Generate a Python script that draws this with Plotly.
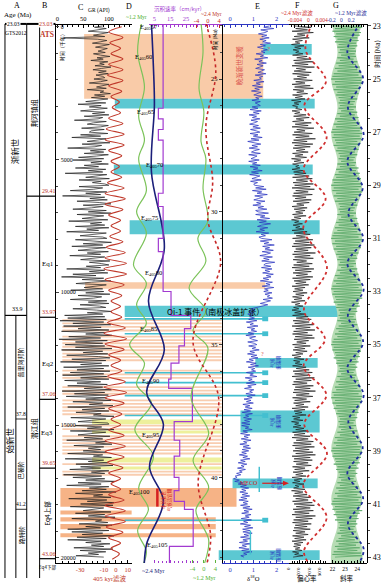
import plotly.graph_objects as go

W, H = 381, 583
PX_TOP, PX_BOT = 22, 563           # vertical extent of the data panels (pixels)
MA_TOP, MA_BOT = 22.925, 43.225    # ages at those pixel rows (Ma)

# ------------------------------------------------------------------ data
# stratigraphic framework
gts_bounds = [33.9, 37.8, 41.2]
ats_bounds = [29.41, 33.97, 37.06, 39.65, 43.06]
ats_labels = ["23.03", "29.41", "33.97", "37.06", "39.65", "43.06"]

# C: gamma ray log (API), sampled every 0.05 Myr from 23.00 Ma
gr_start, gr_step = 23.0, 0.05
gr_api = [88, 72, 95, 81, 60, 99, 85, 70, 92, 12, 78, 96, 83, 68, 101, 90, 74, 97, 86, 79,
          93, 70, 84, 102, 77, 89, 65, 98, 82, 91, 73, 104, 86, 69, 95, 80, 99, 75, 88, 92,
          71, 97, 84, 62, 100, 88, 76, 95, 58, 90, 83, 103, 72, 92, 66, 98, 81, 55, 94, 40,
          85, 62, 97, 74, 45, 92, 68, 100, 52, 88, 79, 33, 95, 70, 58, 99, 84, 47, 91, 66,
          62, 98, 45, 84, 28, 95, 70, 58, 102, 48, 86, 73, 20, 94, 64, 90, 52, 99, 76, 41,
          90, 30, 86, 65, 99, 52, 80, 35, 94, 60, 88, 15, 96, 70, 55, 101, 42, 85, 68, 92,
          100, 42, 88, 70, 25, 96, 55, 84, 10, 92, 63, 97, 38, 82, 104, 50, 89, 66, 30, 95,
          60, 104, 38, 90, 72, 48, 98, 22, 86, 64, 92, 35, 100, 57, 80, 18, 95, 70, 44, 88,
          96, 35, 80, 105, 50, 88, 28, 94, 66, 40, 99, 58, 84, 24, 92, 71, 45, 102, 62, 86,
          100, 56, 84, 18, 92, 62, 98, 30, 75, 8, 90, 48, 104, 66, 36, 95, 78, 52, 88, 26,
          90, 55, 102, 40, 86, 70, 25, 96, 60, 100, 44, 82, 94, 30, 76, 105, 58, 88, 14, 92,
          20, 95, 5, 90, 30, 104, 12, 85, 40, 100, 8, 92, 55, 106, 22, 84, 3, 97, 35, 88,
          15, 92, 35, 106, 8, 88, 50, 98, 18, 80, 102, 28, 94, 6, 86, 45, 100, 12, 90, 38,
          102, 25, 90, 10, 96, 45, 100, 14, 84, 38, 97, 20, 88, 52, 105, 9, 92, 33, 99, 17,
          95, 55, 104, 30, 88, 62, 108, 20, 92, 48, 100, 36, 85, 70, 110, 26, 94, 58, 40, 98,
          100, 35, 86, 58, 110, 25, 94, 65, 40, 102, 52, 88, 18, 96, 74, 106, 32, 90, 60, 84,
          50, 96, 20, 88, 70, 105, 15, 90, 60, 98, 36, 108, 45, 84, 24, 100, 66, 92, 12, 86,
          30, 92, 55, 112, 40, 85, 18, 100, 62, 95, 48, 114, 35, 88, 70, 104, 22, 96, 58, 110,
          45, 108, 25, 90, 70, 50, 104, 35, 92, 60, 112, 28, 86, 74, 98, 42, 106, 55, 84, 20,
          100, 28, 88, 48, 110, 38, 95, 20, 85, 55, 102, 66, 90, 32, 108, 44, 94, 60, 80, 36,
          90]

# C: 405-kyr filter, successive extrema every half cycle from 23.03 Ma
f405_start, f405_step = 23.03, 0.2025
f405_val = [5, -6, 6, -5, 4, -4, 6, -6, 6, -7, 6, -6, 5, -4, 3, -3, 4, -6, 6, -8,
            7, -9, 7, -6, 5, -4, 3, -4, 5, -7, 7, -9, 8, -9, 6, -6, 4, -4, 4, -5,
            6, -8, 8, -9, 9, -10, 9, -9, 7, -6, 5, -4, 4, -4, 5, -7, 8, -10, 9, -9,
            7, -6, 4, -4, 5, -7, 8, -10, 9, -9, 7, -6, 5, -4, 4, -6, 7, -9, 8, -9,
            7, -7, 6, -6, 4, -4, 4, -6, 7, -9, 8, -9, 8, -8, 6, -6, 4, -4, 3, -3]

# D: ~1.2 Myr filter (left green curve), extrema
g1_age = [22.9, 24.0, 25.3, 26.4, 27.3, 28.0, 29.2, 30.0, 30.8, 32.0, 32.7, 33.5,
          34.2, 35.0, 35.7, 36.5, 37.2, 38.2, 39.2, 40.4, 41.2, 42.0, 42.8, 43.4]
g1_val = [-0.08, -0.38, 0.15, -0.3, 0.15, -0.3, 0.3, -0.46, 0.3, -0.7, 0.3, -0.46,
          0.3, -1.0, 0.15, -0.46, 0.7, -0.6, 0.85, -0.3, 0.46, -0.38, 0.3, -0.08]

# D: ~2.4 Myr filter (dark blue curve), extrema
b24_age = [22.9, 24.5, 26.0, 28.5, 31.4, 33.36, 35.2, 36.8, 38.0, 39.6, 40.9, 42.5, 43.4]
b24_val = [-0.23, -0.08, 0.0, -0.23, 0.77, -0.46, 0.77, -0.6, 0.7, -0.38, 0.7, -0.6, -0.8]

# D: sedimentation rate (cm/kyr), value holds from each age downwards
sr_age = [22.9, 26.1, 26.5, 26.9, 27.3, 29.3, 29.8, 31.0, 31.5, 33.0, 33.9, 34.4,
          35.05, 35.7, 36.3, 36.65, 37.9, 38.6, 39.2, 40.0, 40.5, 40.9, 41.2, 42.6, 43.4]
sr_rate = [10.5, 7.5, 10.5, 7.5, 10.5, 7.5, 10.5, 7.5, 10.5, 15.5, 28, 24,
           20.5, 15.5, 14, 29, 17.5, 21, 17.5, 20.5, 17.5, 24, 29.5, 14.5, 14.5]

# D: ~1.2 Myr filter (right green curve), extrema
g2_age = [22.9, 23.98, 25.36, 26.23, 27.35, 27.99, 29.12, 30.35, 30.99, 31.86, 32.87,
          33.73, 34.48, 35.12, 37.0, 38.35, 39.36, 40.37, 41.24, 42.36, 43.4]
g2_val = [-1.0, -0.3, -1.7, 0.0, -1.0, 0.7, -0.3, 1.4, -2.1, 0.7, -5.2,
          0.7, -3.8, 1.4, -4.5, 1.7, -3.8, 1.7, -2.8, 1.7, -0.3]

# D: ~2.4 Myr filter (red dotted curve), extrema
r24_age = [22.9, 24.7, 26.8, 28.9, 30.3, 31.9, 34.9, 37.0, 40.2, 42.2, 43.4]
r24_val = [-0.7, 2.8, -0.7, 1.7, 0.0, 4.5, -5.2, 3.8, -3.4, 1.0, -0.7]

# E: benthic d18O (permil), every 0.05 Myr from 23.00 Ma
d18o_start, d18o_step = 23.0, 0.05
d18o = [1.70, 1.45, 1.88, 1.32, 1.62, 1.50, 1.22, 1.58, 1.36, 1.68, 1.28, 1.55, 1.40, 1.74, 1.30, 1.52, 1.18, 1.46, 1.60, 1.34,
        1.50, 1.12, 1.44, 1.30, 1.62, 1.06, 1.38, 1.24, 1.56, 1.16, 1.42, 1.28, 1.10, 1.48, 1.34, 1.20, 1.54, 1.08, 1.40, 1.26,
        1.35, 1.02, 1.46, 1.12, 1.30, 0.96, 1.40, 1.06, 1.26, 0.92, 1.32, 1.18, 1.02, 1.38, 1.10, 1.24, 0.94, 1.30, 1.08, 1.20,
        1.30, 0.95, 1.20, 0.86, 1.34, 1.00, 1.25, 0.82, 1.14, 0.96, 1.28, 0.90, 1.18, 1.04, 0.84, 1.22, 0.98, 1.30, 0.88, 1.12,
        1.28, 0.86, 1.20, 1.00, 1.38, 0.90, 1.24, 0.76, 1.10, 1.32, 0.94, 1.18, 0.82, 1.26, 1.04, 0.92, 1.30, 0.80, 1.16, 0.98,
        0.90, 1.25, 0.80, 1.15, 0.96, 1.30, 0.86, 1.20, 1.00, 1.38, 0.92, 1.22, 0.84, 1.28, 1.06, 0.94, 1.34, 0.88, 1.18, 1.02,
        1.05, 1.45, 1.10, 1.55, 0.96, 1.36, 1.16, 1.60, 1.06, 1.40, 1.22, 1.02, 1.50, 1.14, 1.32, 0.98, 1.44, 1.20, 1.58, 1.10,
        1.20, 1.65, 1.10, 1.50, 1.30, 1.70, 1.16, 1.56, 1.26, 1.74, 1.36, 1.18, 1.62, 1.28, 1.48, 1.12, 1.66, 1.34, 1.52, 1.24,
        1.35, 1.80, 1.30, 1.66, 1.46, 1.90, 1.40, 1.70, 1.50, 1.86, 1.38, 1.74, 1.56, 1.28, 1.82, 1.44, 1.68, 1.36, 1.92, 1.52,
        1.45, 1.75, 1.35, 1.80, 1.50, 1.70, 1.40, 1.86, 1.56, 1.76, 1.42, 1.66, 1.30, 1.82, 1.54, 1.72, 1.38, 1.88, 1.48, 1.64,
        1.45, 1.80, 1.50, 1.70, 1.60, 1.82, 1.42, 1.74, 1.52, 1.30, 1.62, 1.36, 1.10, 0.90, 1.06, 0.80, 1.02, 0.76, 0.98, 0.84,
        1.05, 0.80, 1.15, 0.70, 1.00, 0.86, 1.20, 0.74, 1.06, 0.90, 1.14, 0.78, 1.02, 0.68, 1.10, 0.84, 0.96, 1.18, 0.76, 1.04,
        1.15, 0.80, 1.10, 0.95, 1.25, 0.85, 1.05, 0.75, 1.15, 0.90, 1.20, 0.82, 1.00, 0.70, 1.12, 0.88, 1.22, 0.78, 1.06, 0.92,
        1.10, 0.70, 1.00, 0.85, 1.15, 0.65, 0.95, 0.80, 1.05, 0.70, 1.12, 0.76, 0.92, 0.62, 1.02, 0.84, 0.96, 0.68, 1.08, 0.74,
        0.95, 0.60, 0.90, 0.70, 1.00, 0.55, 0.85, 0.65, 0.95, 0.60, 0.88, 0.52, 0.96, 0.66, 0.80, 0.58, 0.92, 0.62, 0.84, 0.50,
        0.85, 0.50, 0.80, 0.65, 0.95, 0.55, 0.75, 0.45, 0.85, 0.60, 0.78, 0.48, 0.90, 0.58, 0.72, 0.42, 0.82, 0.56, 0.88, 0.52,
        0.80, 0.50, 0.70, 0.40, 0.75, 0.55, 0.85, 0.45, 0.65, 0.35, 0.72, 0.48, 0.60, 0.32, 0.66, 0.40, 0.52, 0.28, 0.46, 0.22,
        0.30, 0.15, 0.40, 0.20, 0.55, 0.35, 0.70, 0.45, 0.80, 0.50, 0.68, 0.42, 0.76, 0.52, 0.84, 0.46, 0.72, 0.38, 0.78, 0.56,
        0.75, 0.45, 0.85, 0.55, 0.95, 0.60, 0.80, 0.50, 0.90, 0.65, 0.82, 0.48, 0.92, 0.58, 0.76, 0.44, 0.88, 0.62, 0.98, 0.54,
        0.85, 0.55, 0.95, 0.60, 0.80, 0.45, 0.90, 0.55, 0.75, 0.40, 0.86, 0.52, 0.70, 0.38, 0.82, 0.50, 0.94, 0.58, 0.72, 0.46,
        0.60]

# F: eccentricity (x 0.001), every 0.05 Myr from 23.00 Ma
ecc_start, ecc_step = 23.0, 0.05
ecc_milli = [8, 42, 12, 35, 5, 46, 15, 30, 9, 38, 6, 25, 11, 20, 4, 28, 10, 22, 7, 18,
             12, 26, 6, 34, 14, 40, 8, 45, 10, 36, 5, 48, 13, 31, 9, 42, 6, 38, 15, 33,
             8, 44, 12, 30, 5, 40, 10, 46, 7, 28, 14, 35, 6, 25, 11, 30, 4, 22, 9, 18,
             6, 16, 12, 24, 5, 20, 10, 32, 8, 38, 13, 28, 6, 42, 11, 36, 5, 47, 14, 30,
             9, 44, 6, 38, 12, 50, 8, 34, 5, 45, 10, 40, 7, 30, 13, 36, 6, 26, 11, 33,
             4, 22, 9, 28, 6, 18, 12, 20, 5, 26, 8, 32, 10, 38, 6, 44, 13, 35, 7, 46,
             10, 40, 5, 48, 12, 36, 8, 44, 6, 32, 11, 42, 7, 38, 14, 28, 5, 34, 9, 30,
             12, 26, 6, 32, 9, 22, 4, 18, 10, 25, 7, 20, 12, 28, 5, 34, 9, 40, 13, 31,
             6, 45, 11, 38, 8, 48, 5, 42, 12, 36, 9, 50, 6, 40, 10, 46, 7, 33, 14, 44,
             8, 38, 5, 47, 11, 42, 7, 35, 13, 45, 6, 40, 9, 32, 12, 37, 5, 30, 10, 26,
             7, 34, 12, 28, 6, 24, 9, 30, 4, 20, 11, 26, 8, 18, 5, 22, 10, 30, 6, 36,
             13, 42, 7, 38, 10, 46, 5, 40, 12, 49, 8, 35, 6, 44, 11, 48, 9, 37, 14, 32,
             6, 40, 10, 30, 7, 34, 12, 26, 5, 22, 9, 28, 8, 20, 11, 24, 6, 32, 13, 38,
             7, 44, 10, 36, 5, 48, 12, 42, 8, 34, 6, 46, 11, 40, 9, 50, 7, 38, 13, 45,
             6, 33, 10, 40, 8, 28, 12, 36, 5, 30, 9, 24, 11, 32, 6, 20, 8, 26, 4, 18,
             10, 22, 7, 28, 12, 34, 6, 30, 9, 40, 5, 36, 13, 46, 8, 42, 6, 48, 11, 38,
             7, 45, 12, 50, 5, 40, 9, 44, 8, 36, 13, 42, 6, 30, 10, 38, 7, 26, 12, 32,
             5, 24, 9, 20, 6, 28, 11, 18, 8, 30, 4, 26, 10, 34, 7, 40, 12, 36, 6, 44,
             9, 48, 13, 40, 7, 46, 10, 38, 5, 50, 12, 44, 8, 36, 6, 42, 11, 34, 9, 40,
             7, 30, 12, 36, 6, 28, 10, 32, 5, 26, 9, 22, 8, 20, 11, 24, 6, 18, 10, 26,
             7]

# F: ~2.4 Myr eccentricity filter (x 0.001), extrema
fr_age = [22.9, 23.9, 25.1, 26.0, 27.2, 28.4, 29.5, 30.6, 32.1, 33.7, 34.8, 35.8,
          36.9, 38.0, 39.1, 40.3, 41.5, 42.8, 43.5]
fr_val = [1.2, -0.8, 5.3, -1.2, 5.5, -1.4, 5.2, -1.5, 5.6, -1.3, 5.0, -1.4,
          5.4, -1.2, 5.6, -1.5, 5.5, -1.3, 2.0]

# G: obliquity (x 0.1 degree), every 0.05 Myr from 23.00 Ma
obl_start, obl_step = 23.0, 0.05
obl_tenth = [219, 244, 222, 241, 220, 243, 223, 242, 221, 240, 224, 241, 222, 239, 225, 240, 224, 238, 226, 239,
             225, 238, 227, 239, 224, 237, 226, 240, 223, 239, 225, 242, 222, 240, 224, 243, 221, 241, 220, 244,
             219, 243, 222, 244, 220, 241, 223, 242, 221, 240, 224, 241, 223, 238, 225, 240, 226, 238, 225, 237,
             226, 239, 225, 237, 227, 240, 224, 238, 226, 241, 222, 239, 224, 242, 221, 240, 223, 243, 220, 242,
             219, 244, 221, 242, 220, 243, 222, 240, 223, 242, 221, 239, 224, 241, 223, 238, 225, 240, 226, 238,
             225, 237, 227, 239, 224, 238, 226, 241, 223, 239, 225, 242, 222, 240, 223, 243, 220, 241, 221, 244,
             219, 243, 221, 241, 220, 244, 223, 242, 221, 240, 224, 241, 222, 239, 225, 240, 226, 238, 225, 237,
             226, 239, 224, 237, 227, 240, 225, 238, 223, 241, 225, 239, 222, 242, 224, 240, 221, 243, 220, 241,
             219, 244, 222, 242, 220, 241, 223, 243, 221, 240, 224, 241, 223, 239, 225, 240, 224, 238, 226, 239,
             225, 237, 227, 240, 224, 238, 226, 241, 222, 239, 224, 242, 221, 240, 223, 243, 220, 241, 219, 244,
             221, 243, 220, 242, 222, 244, 223, 240, 221, 241, 224, 242, 223, 239, 225, 240, 226, 238, 225, 237,
             226, 239, 224, 238, 227, 240, 225, 237, 223, 241, 225, 239, 222, 242, 224, 240, 221, 243, 220, 241,
             219, 244, 221, 242, 220, 243, 222, 240, 223, 242, 221, 239, 224, 241, 223, 238, 225, 240, 226, 238,
             225, 237, 227, 239, 224, 238, 226, 241, 223, 239, 225, 242, 222, 240, 223, 243, 220, 241, 221, 244,
             219, 243, 222, 244, 220, 241, 223, 242, 221, 240, 224, 241, 223, 238, 225, 240, 226, 238, 225, 237,
             226, 239, 225, 237, 227, 240, 224, 238, 226, 241, 222, 239, 224, 242, 221, 240, 223, 243, 220, 242,
             219, 244, 221, 242, 220, 243, 222, 240, 223, 242, 221, 239, 224, 241, 223, 238, 225, 240, 226, 238,
             225, 237, 227, 239, 224, 238, 226, 241, 223, 239, 225, 242, 222, 240, 224, 243, 221, 241, 220, 244,
             219, 243, 222, 241, 220, 244, 223, 242, 221, 240, 224, 241, 222, 239, 225, 240, 226, 238, 225, 237,
             226, 239, 224, 237, 227, 240, 225, 238, 223, 241, 225, 239, 222, 242, 224, 240, 221, 243, 220, 244,
             222]

# G: envelope of the obliquity signal (degrees), at the filter extrema
env_age = [22.9, 24.0, 25.0, 26.05, 27.1, 28.1, 29.1, 30.05, 31.0, 31.95, 32.9, 33.9,
           34.9, 35.9, 36.9, 37.9, 38.9, 39.85, 40.8, 41.75, 42.7, 43.4]
env_lo = [21.9, 22.4, 21.9, 22.4, 21.9, 22.4, 21.9, 22.4, 21.9, 22.4, 21.9, 22.4,
          21.9, 22.4, 21.9, 22.4, 21.9, 22.4, 21.9, 22.4, 21.9, 22.1]
env_hi = [24.4, 23.9, 24.4, 23.9, 24.4, 23.9, 24.4, 23.9, 24.4, 23.9, 24.4, 23.9,
          24.4, 23.9, 24.4, 23.9, 24.4, 23.9, 24.4, 23.9, 24.4, 24.2]

# G: ~1.2 Myr obliquity filter, extrema
gb_age = [22.9, 24.0, 25.0, 26.05, 27.1, 28.1, 29.1, 30.05, 31.0, 31.95, 32.9, 33.9,
          34.9, 35.9, 36.9, 37.9, 38.9, 39.85, 40.8, 41.75, 42.7, 43.4]
gb_val = [0.38, 0.12, 0.44, 0.13, 0.45, 0.12, 0.43, 0.14, 0.44, 0.12, 0.45, 0.13,
          0.44, 0.12, 0.45, 0.14, 0.43, 0.12, 0.44, 0.13, 0.45, 0.30]

# 405-kyr cycle labels
e405_n = [57, 60, 65, 70, 75, 80, 85, 90, 95, 100, 105]
e405_age = [23.04, 24.16, 26.23, 28.22, 30.24, 32.31, 34.41, 36.36, 38.42, 40.56, 42.55]

# correlation bands (Ma)
cyan_bands = [(23.68, 24.09, 263, 312), (25.74, 26.11, 113, 315), (28.22, 28.59, 112, 313),
              (30.32, 30.84, 128, 320), (33.54, 33.96, 123, 345), (35.50, 35.87, 255, 318),
              (37.48, 38.31, 240, 320), (40.04, 40.41, 232, 318), (42.74, 43.11, 218, 320)]
cyan_lines = [34.03, 34.59, 36.06, 36.43, 36.92, 37.67, 41.61]
peach_lines = [34.08, 34.20, 34.33, 34.47, 34.70, 34.83, 34.95, 35.08, 35.21, 35.34, 35.46,
               35.59, 35.98, 36.12, 36.25, 36.60, 36.73, 36.85, 37.10, 37.23, 37.36, 37.49,
               37.62, 38.05, 38.18, 38.45, 38.58, 38.71, 38.84, 38.97, 39.10, 39.50, 39.78, 39.90]
yellow_bands = [(37.82, 38.00), (38.23, 38.35), (39.25, 39.44), (39.59, 39.70)]
orange_bands = [(23.30, 25.74, 82, 263, "#f9cba8"), (32.65, 32.90, 83, 265, "#f9cba8"),
                (40.40, 41.10, 58, 236, "#f6b386"), (41.25, 41.40, 58, 130, "#f6b386"),
                (41.50, 41.66, 58, 215, "#f6b386"), (41.75, 41.95, 58, 215, "#f6b386"),
                (42.10, 42.25, 58, 215, "#f6b386")]

# ------------------------------------------------------------------ helpers
SERIF = "Liberation Serif, Noto Sans CJK SC, serif"
CJK = "Noto Sans CJK SC, Liberation Serif, sans-serif"
TOPP = 1 - PX_TOP / H
BOTP = 1 - PX_BOT / H


def age_px(a):
    return PX_TOP + (a - MA_TOP) / (MA_BOT - MA_TOP) * (PX_BOT - PX_TOP)


def rng(p0, p1, va, pa, vb, pb):
    s = (pb - pa) / (vb - va)
    return [va + (p0 - pa) / s, va + (p1 - pa) / s]


def xa(p0, p1, cal, side="top", visible=True, color="black", lab=None, tickvals=None,
       ticktext=None, line=True, minor=None, size=6.5, labels=True):
    d = dict(domain=[p0 / W, p1 / W], range=rng(p0, p1, *cal), anchor="free",
             position=TOPP if side == "top" else BOTP, side=side, showgrid=False,
             zeroline=False, fixedrange=True)
    if not visible:
        d["visible"] = False
        return d
    d.update(showline=line, linecolor=color, linewidth=1, tickcolor=color)
    if tickvals is not None:
        d.update(ticks="inside", ticklen=3, tickwidth=0.8, tickvals=tickvals,
                 ticktext=ticktext or [str(v) for v in tickvals], ticklabelstandoff=0,
                 showticklabels=labels,
                 tickfont=dict(size=size, color=lab or color, family=SERIF))
    else:
        d.update(ticks="", showticklabels=False)
    if minor is not None:
        d["minor"] = dict(ticks="inside", ticklen=2, dtick=minor, tickcolor=color, tickwidth=0.6)
    return d


fig = go.Figure()


def line_trace(x, y, xaxis, color, width=1.0, dash=None, shape="linear"):
    fig.add_trace(go.Scatter(x=x, y=y, xaxis=xaxis, yaxis="y", mode="lines",
                             line=dict(color=color, width=width, dash=dash, shape=shape),
                             hoverinfo="skip", showlegend=False))


def ages(start, step, n):
    return [round(start + i * step, 4) for i in range(n)]


# ------------------------------------------------------------------ bands (paper coords from ages)
shapes = []


def band(a0, a1, x0, x1, color):
    shapes.append(dict(type="rect", xref="paper", yref="paper", x0=x0 / W, x1=x1 / W,
                       y0=1 - age_px(a0) / H, y1=1 - age_px(a1) / H,
                       fillcolor=color, line=dict(width=0), layer="below"))


for a0, a1, x0, x1, c in orange_bands:
    band(a0, a1, x0, x1, c)
for a in peach_lines:
    band(a - 0.035, a + 0.035, 60, 221, "#f8cdb0")
for a0, a1 in yellow_bands:
    band(a0, a1, 90, 221, "#eef09c")
for a0, a1, x0, x1 in cyan_bands:
    band(a0, a1, x0, x1, "#5cc8d2")
for a in cyan_lines:
    band(a - 0.03, a + 0.03, 123, 264, "#43bfd0")
    band(a - 0.09, a + 0.09, 262, 268, "#43bfd0")

# ------------------------------------------------------------------ traces
line_trace(gr_api, ages(gr_start, gr_step, len(gr_api)), "x2", "#1e1e1e", 0.7)
line_trace(f405_val, ages(f405_start, f405_step, len(f405_val)), "x3", "#c0392b", 1.1, shape="spline")
line_trace(g1_val, g1_age, "x4", "#7cc35a", 1.2, shape="spline")
line_trace(b24_val, b24_age, "x5", "#1b1f7a", 1.6, shape="spline")
line_trace(sr_rate, sr_age, "x6", "#a23ad0", 1.2, shape="vh")
line_trace(g2_val, g2_age, "x8", "#7cc35a", 1.2, shape="spline")
line_trace(r24_val, r24_age, "x9", "#c62828", 1.6, dash="dot", shape="spline")
line_trace(d18o, ages(d18o_start, d18o_step, len(d18o)), "x10", "#2b35c0", 0.75)
line_trace([v / 1000 for v in ecc_milli], ages(ecc_start, ecc_step, len(ecc_milli)), "x12", "#1e1e1e", 0.7)
line_trace([v / 1000 for v in fr_val], fr_age, "x13", "#d03030", 1.8, dash="dot", shape="spline")
fig.add_trace(go.Scatter(x=env_lo + env_hi[::-1], y=env_age + env_age[::-1], xaxis="x14", yaxis="y",
                         mode="lines", fill="toself", fillcolor="#b7dcb4",
                         line=dict(width=0, shape="spline"), hoverinfo="skip", showlegend=False))
line_trace([v / 10 for v in obl_tenth], ages(obl_start, obl_step, len(obl_tenth)), "x14", "#5aa868", 0.8)
line_trace(gb_val, gb_age, "x15", "#1f2f9a", 1.8, dash="dot", shape="spline")

# invisible anchor traces so that tick-only axes are drawn
for xa_, ya_, xv, yv in [("x7", "y", 20, 30), ("x11", "y", 1, 30), ("x2", "y2", 50, 30), ("x2", "y3", 50, 5000)]:
    fig.add_trace(go.Scatter(x=[xv], y=[yv], xaxis=xa_, yaxis=ya_, mode="markers",
                             marker=dict(size=1, opacity=0), hoverinfo="skip", showlegend=False))

# ------------------------------------------------------------------ axes
kyr_ticks = [0, 5000, 10000, 15000, 20000]
layout_axes = dict(
    xaxis=dict(visible=False, domain=[0, 1], range=[0, W]),
    xaxis2=xa(53, 130, (0, 55, 100, 107), tickvals=[0, 50, 100], minor=10),
    xaxis3=xa(53, 130, (0, 114, 10, 126), side="bottom", lab="#c0392b",
              tickvals=[-30, -10, 0, 10], minor=5),
    xaxis4=xa(120, 160, (-1, 128, 1, 154), visible=False),
    xaxis5=xa(130, 175, (-1, 140, 1, 166), visible=False),
    xaxis6=xa(148, 221, (0, 145, 25, 185), color="#a23ad0", tickvals=[5, 15, 25], minor=2.5),
    xaxis7=xa(148, 200, (0, 145, 25, 185), side="bottom", color="#a23ad0", line=False,
              tickvals=[5, 15, 25], minor=2.5, labels=False),
    xaxis8=xa(180, 221, (0, 203, 4, 214.5), side="bottom", color="#5db33c", line=False,
              tickvals=[-4, 0, 4]),
    xaxis9=xa(180, 221, (0, 207, 4, 218.5), color="#c62828", line=False, tickvals=[-4, 0, 4]),
    xaxis10=xa(221, 289, (0, 229.5, 2, 276.5), color="#2b35c0", tickvals=[0, 1, 2], minor=0.25),
    xaxis11=xa(221, 289, (0, 229.5, 2, 276.5), side="bottom", color="#2b35c0",
               tickvals=[0, 1, 2], minor=0.25),
    xaxis12=xa(289, 329, (0, 289.5, 0.06, 321), side="bottom",
               tickvals=[0, 0.02, 0.04, 0.06], minor=0.005, size=5),
    xaxis13=xa(289, 329, (0, 308.5, 0.004, 322), lab="#d03030",
               tickvals=[-0.004, 0, 0.004], minor=0.001, size=5.5),
    xaxis14=xa(329, 368, (22, 333, 24, 358), side="bottom", tickvals=[22, 23, 24], minor=0.25, size=5.5),
    xaxis15=xa(329, 368, (0, 342, 0.2, 352), lab="#1f2f9a", tickvals=[-0.2, 0, 0.2], minor=0.05, size=5.5),
    yaxis=dict(domain=[BOTP, TOPP], range=[MA_BOT, MA_TOP], anchor="free", position=368 / W,
               side="right", showline=True, linecolor="black", linewidth=1, ticks="outside",
               ticklen=3, tickvals=list(range(23, 44, 2)), showgrid=False, zeroline=False,
               minor=dict(ticks="outside", ticklen=2, dtick=0.5),
               tickfont=dict(size=8, family=SERIF), fixedrange=True),
    yaxis2=dict(domain=[BOTP, TOPP], range=[MA_BOT, MA_TOP], overlaying="y", anchor="free",
                position=221 / W, side="left", showline=True, linecolor="black", linewidth=1,
                ticks="outside", ticklen=3, tickvals=[25, 30, 35, 40], showgrid=False,
                zeroline=False, minor=dict(ticks="outside", ticklen=2, dtick=1),
                tickfont=dict(size=6.5, family=SERIF)),
    yaxis3=dict(domain=[BOTP, TOPP], range=[(MA_BOT - 23.03) * 1000, (MA_TOP - 23.03) * 1000],
                overlaying="y", anchor="free", position=53 / W, side="right", showline=True,
                linecolor="black", linewidth=1, ticks="outside", ticklen=3,
                tickvals=kyr_ticks, ticktext=[str(v) for v in kyr_ticks],
                showgrid=False, zeroline=False,
                minor=dict(ticks="outside", ticklen=2, dtick=1000),
                tickfont=dict(size=6, family=SERIF)),
)

# ------------------------------------------------------------------ column frames


def seg(x0, y0, x1, y1, w=1, color="black"):
    shapes.append(dict(type="line", xref="paper", yref="paper", x0=x0 / W, x1=x1 / W,
                       y0=1 - y0 / H, y1=1 - y1 / H, line=dict(color=color, width=w), layer="above"))


for x in (2, 24, 37):
    seg(x, PX_TOP, x, 578)
seg(13, age_px(gts_bounds[0]), 13, 578)
seg(2, PX_TOP, 24, PX_TOP, 2)
seg(24, PX_TOP, 53, PX_TOP, 2)
seg(2, age_px(gts_bounds[0]), 24, age_px(gts_bounds[0]), 1.2)
for a in gts_bounds[1:]:
    seg(13, age_px(a), 24, age_px(a), 0.8)
seg(24, age_px(ats_bounds[0]), 53, age_px(ats_bounds[0]), 1.2)
for a in ats_bounds[1:]:
    seg(37, age_px(a), 53, age_px(a), 1.2)
# red bar (MECO) and cyan markers
seg(156, age_px(40.42), 156, age_px(41.1), 2.5, "#d62020")
for x, a0, a1 in [(259, 39.6, 40.55), (250, 42.0, 42.9)]:
    seg(x, age_px(a0), x, age_px(a1), 1.5, "#43bfd0")
# MECO arrow
ya = age_px(40.22)
seg(262, ya, 284, ya, 1.2, "#d62020")
shapes.append(dict(type="path", xref="paper", yref="paper",
                   path="M %f %f L %f %f L %f %f Z" % (289 / W, 1 - ya / H, 283 / W, 1 - (ya - 2.5) / H,
                                                       283 / W, 1 - (ya + 2.5) / H),
                   fillcolor="#d62020", line=dict(width=0), layer="above"))

# ------------------------------------------------------------------ text
anns = []


def T(text, x, y, size=7, color="black", angle=0, font=SERIF, bg=None, yref="paper"):
    d = dict(text=text, x=x / W, y=(1 - y / H) if yref == "paper" else y, xref="paper", yref=yref,
             showarrow=False, font=dict(size=size, color=color, family=font), textangle=angle,
             xanchor="center", yanchor="middle")
    if bg:
        d["bgcolor"] = bg
        d["borderpad"] = 0
    anns.append(d)


RED = "#c0392b"
T("A", 14, 4, 8)
T("Age (Ma)", 15, 13, 7)
T("B", 42, 4, 8)
T("23.03", 11, PX_TOP, 5.5, bg="white")
T("GTS2012", 13, 31, 5.5)
T("23.03", 43, PX_TOP, 6, RED, bg="white")
T("<b>ATS</b>", 44, 33, 7.5, RED)
T("渐新世", 12, 150, 8.5, angle=-90, font=CJK)
T("33.9", 15, age_px(33.9) - 6, 6)
T("始新世", 7, 440, 8.5, angle=-90, font=CJK)
T("普里阿邦阶", 18, 362, 6, angle=-90, font=CJK)
T("37.8", 18, age_px(37.8) - 5, 5.5)
T("巴顿阶", 18, 470, 6, angle=-90, font=CJK)
T("41.2", 18, age_px(41.2) - 5, 5.5)
T("路特阶", 18, 535, 6, angle=-90, font=CJK)
T("荆河镇组", 31, 112, 7, angle=-90, font=CJK)
T("潜江组", 31, 428, 7, angle=-90, font=CJK)
for lab, a in zip(ats_labels[1:], ats_bounds):
    T(lab, 46, age_px(a) - 5, 6, RED)
T("Eq1", 45, 263, 7)
T("Eq2", 45, 363, 7)
T("Eq3", 44, 432, 7)
T("Eq4上部", 45, 513, 6.5, angle=-90, font=CJK)
T("Eq4下部", 45, 567, 4.5, font=CJK)

T("C", 78, 6, 8)
T("GR (API)", 97, 9, 5.5)
T("时间（千年）", 59, 44, 5, angle=-90, font=CJK)
T("D", 127, 5, 8)
T("~1.2 Myr", 135, 15, 5.5, "#4caf2a")
T("沉积速率（cm/kyr）", 178, 7, 5.5, "#a23ad0", font=CJK)
T("~2.4 Myr", 211, 12, 5.5, RED)
T("时间 (Ma)", 214, 38, 5, angle=-90, font=CJK)
T("E", 257, 5, 8)
T("F", 298, 4, 8)
T("~2.4 Myr滤波", 297, 11, 5.5, "#d03030")
T("G", 337, 4, 8)
T("~1.2 Myr滤波", 352, 11, 5.5, "#1f2f9a")
T("时间 (Ma)", 378, 52, 6.5, angle=-90, font=CJK)

T("405 kyr滤波", 108, 578, 6.5, RED)
T("~2.4 Myr", 152, 571, 6, "#1b1f7a")
T("~1.2 Myr", 204, 578, 6, "#4caf2a")
T("δ<sup>18</sup>O", 253, 578, 6.5)
T("偏心率", 307, 578, 6.5, font=CJK)
T("斜率", 348, 578, 6.5, font=CJK)

for n, a, x in zip(e405_n, e405_age, [148, 142, 144, 153, 148, 152, 147, 149, 149, 138, 156]):
    T("E<sub>405</sub>%d" % n, x, a, 6.5, yref="y")

T("Oi-1 事件（南极冰盖扩张）", 215, 33.75, 8, font=CJK, yref="y")
T("晚渐新世变暖", 238, 24.5, 6.5, "#d9534f", angle=-90, font=CJK, yref="y")
T("?", 268, 23.88, 7, "#d9534f", yref="y")
T("?", 262, 35.35, 6, "#d9534f", yref="y")
T("MECO", 249, 40.22, 6, "#d62020", yref="y")
T("中始新世<br>气候适宜期", 166, 40.85, 4.5, "#d62020", angle=-90, font=CJK, yref="y")
for a in [35.68, 37.9, 40.22, 42.92]:
    T("气候<br>振荡期", 276, a, 4.5, "#2b35c0", angle=-90, font=CJK, yref="y")

fig.update_layout(width=W, height=H, margin=dict(l=0, r=0, t=0, b=0), autosize=False,
                  paper_bgcolor="white", plot_bgcolor="rgba(0,0,0,0)",
                  font=dict(family=SERIF, size=7, color="black"),
                  showlegend=False, shapes=shapes, annotations=anns, **layout_axes)

fig.write_html("out.html", config={"displayModeBar": False},
               post_script="document.body.style.margin='0';")
